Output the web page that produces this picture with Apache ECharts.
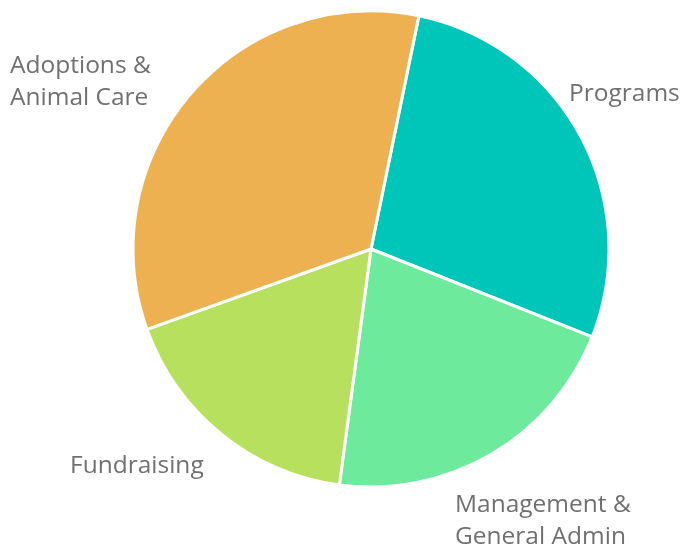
<!DOCTYPE html>
<html>
<head>
<meta charset="utf-8">
<script src="https://cdn.jsdelivr.net/npm/echarts@6/dist/echarts.min.js"></script>
<style>html,body{margin:0;padding:0;background:#fff;}#c{width:682px;height:546px;}</style>
</head>
<body>
<div id="c"></div>
<script>
const categories = ['Programs', 'Management &\nGeneral Admin', 'Fundraising', 'Adoptions &\nAnimal Care'];
const values = [27.8, 21.1, 17.4, 33.7];
const colors = ['#00C6BA', '#6EEA9C', '#B8E05F', '#EDB152'];
const labelPos = [[569, 94], [455, 521], [70, 466], [10, 82]];

const chart = echarts.init(document.getElementById('c'));
chart.setOption({
  animation: false,
  series: [{
    type: 'pie',
    center: [371, 249],
    radius: [0, 238],
    startAngle: 78.4,
    clockwise: true,
    data: categories.map((n, i) => ({ name: n, value: values[i], itemStyle: { color: colors[i] } })),
    itemStyle: { borderColor: '#fff', borderWidth: 3 },
    label: {
      show: true,
      position: 'outside',
      color: '#707070',
      fontFamily: 'Open Sans',
      fontSize: 24.5,
      lineHeight: 32,
      align: 'left',
      overflow: 'none',
      width: 300
    },
    labelLine: { show: false },
    labelLayout: function (p) {
      const pos = labelPos[p.dataIndex];
      return { x: pos[0], y: pos[1], align: 'left', verticalAlign: 'middle' };
    }
  }]
});
</script>
</body>
</html>
